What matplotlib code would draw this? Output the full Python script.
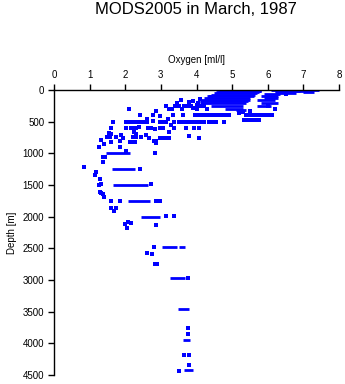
import matplotlib
matplotlib.use("Agg")
import matplotlib.pyplot as plt

plt.rcParams['font.family'] = ['Liberation Sans', 'DejaVu Sans']

title = "MODS2005 in March, 1987"
x_label = "Oxygen [ml/l]"
y_label = "Depth [m]"
x_ticks = [0, 1, 2, 3, 4, 5, 6, 7, 8]
y_ticks = [0, 500, 1000, 1500, 2000, 2500, 3000, 3500, 4000, 4500]

# standard-depth runs of many casts: depth, oxygen from, oxygen to
bar_depth = [0, 0, 0, 10, 10, 20, 20, 25, 30, 40, 50, 60, 75, 100, 100,
             125, 130, 150, 160, 175, 200, 200, 250, 250, 300, 320,
             1000, 1250, 1500, 1750, 2000, 2480, 2480, 2975, 3465, 3950, 4425]
bar_lo = [4.8, 6.1, 6.7, 4.7, 6.2, 4.6, 6.3, 7.0, 4.55, 6.2, 4.5, 5.9, 4.4, 4.3, 5.8,
          4.2, 5.9, 4.1, 5.7, 4.1, 4.1, 5.8, 4.4, 5.7, 4.8, 5.1,
          1.47, 1.62, 1.66, 2.08, 2.45, 3.03, 3.5, 3.27, 3.48, 3.62, 3.66]
bar_hi = [5.8, 6.6, 7.45, 5.8, 7.1, 5.8, 6.9, 7.3, 5.75, 6.8, 5.7, 6.35, 5.65, 5.6, 6.3,
          5.5, 6.3, 5.5, 6.2, 5.45, 5.4, 6.3, 5.3, 6.1, 5.3, 5.4,
          2.13, 2.27, 2.64, 2.69, 2.97, 3.45, 3.67, 3.69, 3.8, 3.82, 3.9]

# single observations, one line per depth band
pt_oxy = [4.4, 4.1, 4.05, 4.2, 6.4, 6.55, 6.5, 6.0, 6.2, 5.5, 5.2, 5.3,
          3.44, 3.57, 3.8, 3.9, 4.0,
          3.13, 3.24, 3.41, 3.5, 3.64, 3.75, 3.85, 4.0, 4.1, 2.87, 2.1,
          3.3, 3.6, 3.9, 4.0, 4.3,
          2.41, 2.78, 2.97, 3.34, 3.62, 3.95, 4.05, 4.15, 4.25, 4.35, 4.45, 4.55, 4.65, 4.75, 4.83, 4.92,
          5.39, 5.5, 5.6, 5.7, 5.8, 5.9, 6.0, 6.13,
          2.61, 3.2,
          5.34, 5.45, 5.55, 5.65, 5.76,
          1.66, 2.02, 2.12, 2.22, 2.31, 2.4, 2.49, 2.61, 2.78, 2.97, 3.04, 3.13, 3.38, 3.52, 3.62,
          3.72, 3.82, 3.92, 4.02, 4.12, 4.22, 4.36, 4.46, 4.55, 4.78,
          3.29, 1.61, 2.03, 2.17, 2.24, 2.31, 2.39, 2.63, 2.73, 2.83, 2.98, 3.06, 3.38, 3.71, 3.94, 4.08,
          2.24, 2.29, 1.61, 1.89, 2.59, 3.24, 3.8, 1.55,
          1.73, 1.94, 2.22, 2.3, 2.45, 2.67, 2.97, 3.05, 3.15, 3.24, 4.08, 1.5, 1.58,
          2.8, 2.87, 1.61, 1.85, 2.13, 2.2, 2.27, 1.33, 1.4, 1.27, 1.85, 2.85,
          2.01, 2.83,
          1.38, 1.43, 1.38, 0.84, 1.19, 1.15, 2.41, 1.29, 1.27, 1.31, 2.71, 1.29, 1.33, 1.38, 1.4,
          1.59, 1.85, 2.85, 2.98, 1.59, 1.69, 1.73, 3.15, 3.36, 1.99, 2.08, 2.17, 2.06, 2.86,
          2.8, 2.62, 2.75, 2.83, 2.88, 3.76, 3.76, 3.76, 3.64, 3.78, 3.78, 3.52]
pt_depth = [105, 140, 200, 260, 10, 30, 60, 250, 300, 330, 360, 350,
            205, 158, 190, 180, 230,
            253, 300, 253, 253, 253, 253, 253, 253, 253, 332, 305,
            300, 300, 290, 300, 300,
            395, 395, 405, 395, 395, 395, 395, 395, 395, 395, 395, 395, 395, 395, 395, 400,
            395, 395, 395, 395, 395, 395, 395, 395,
            458, 458,
            470, 470, 470, 470, 470,
            510, 510, 510, 510, 510, 510, 510, 505, 490, 500, 510, 510, 510, 510, 510,
            510, 510, 510, 510, 510, 510, 510, 510, 510, 505,
            553, 605, 605, 605, 605, 605, 580, 605, 605, 616, 605, 605, 605, 605, 605, 605,
            668, 700, 695, 711, 711, 668, 722, 685,
            747, 763, 747, 747, 747, 763, 753, 753, 753, 753, 753, 747, 747,
            805, 842, 816, 805, 816, 816, 816, 790, 858, 905, 895, 810,
            963, 1000,
            1054, 1064, 1132, 1221, 1300, 1343, 1253, 1411, 1500, 1490, 1490, 1607, 1625, 1643, 1685,
            1749, 1749, 1749, 1749, 1869, 1907, 1869, 1990, 1990, 2117, 2090, 2106, 2185, 2138,
            2480, 2580, 2596, 2750, 2750, 2975, 3750, 3855, 4190, 4190, 4345, 4435]

fig = plt.figure(figsize=(3.45, 3.84), dpi=100)
ax = fig.add_axes([54 / 345, 9 / 384, 285 / 345, 285 / 384])

ax.hlines(bar_depth, bar_lo, bar_hi, colors='#0000ff', linewidth=2.0)
ax.plot(pt_oxy, pt_depth, linestyle='none', marker='s', markersize=2.2,
        markeredgewidth=0, color='#0000ff')

ax.set_xlim(0, 8)
ax.set_ylim(4500, 0)
ax.set_xticks(x_ticks)
ax.set_yticks(y_ticks)

ax.xaxis.set_ticks_position('top')
ax.xaxis.set_label_position('top')
ax.spines['right'].set_visible(False)
ax.spines['bottom'].set_visible(False)
for s in ['top', 'left']:
    ax.spines[s].set_linewidth(1.0)
ax.tick_params(direction='out', length=4, width=1.0, labelsize=7)
ax.tick_params(axis='x', pad=3.5)
ax.tick_params(axis='y', pad=3)

ax.set_xlabel(x_label, fontsize=7, labelpad=5)
ax.set_ylabel(y_label, fontsize=7, labelpad=4)

fig.text(196 / 345, 1 - 9 / 384, title, fontsize=12, ha='center', va='center')

fig.savefig("out.png", dpi=100)
